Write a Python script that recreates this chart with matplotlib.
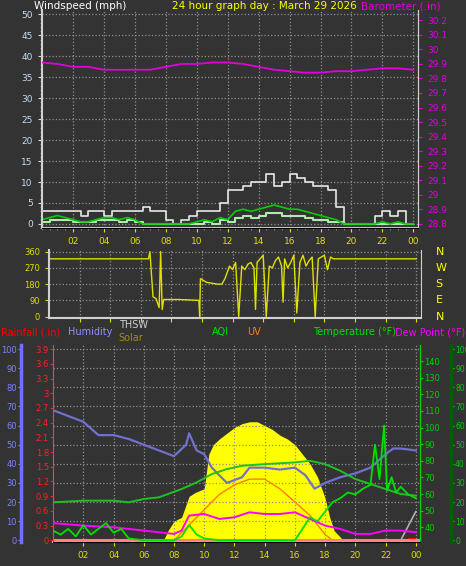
import numpy as np
import matplotlib
matplotlib.use('Agg')
import matplotlib.pyplot as plt

# hours sampled every half hour (0..24)
hours = np.arange(0, 24.5, 0.5)

gust = [3, 3, 3, 3, 3, 2, 3, 3, 2, 3, 3, 3, 3, 4, 3, 3, 1, 0, 1, 2, 3, 3, 3, 5, 8, 8, 9, 10, 10, 12, 9, 10,
        12, 11, 10, 9, 9, 8, 4, 0, 0, 0, 0, 2, 3, 2, 3, 0, 0]
wind_avg = [1, 1.5, 2, 1.5, 1, 0.5, 0.5, 1, 1.5, 1.5, 1, 1.5, 1, 0, 0, 0, 0, 0, 0, 0, 0.5, 1, 0.5, 1.5, 1,
            3, 3.5, 3, 3.5, 4, 4.5, 4, 3.5, 3.5, 3, 2.5, 2, 1.5, 1, 0, 0, 0, 0, 0, 0.5, 0, 0.5, 0, 0]
wind_low = [0.5, 1, 1, 1, 0.5, 0.5, 0.5, 1, 1, 1, 0.5, 1, 0.5, 0, 0, 0, 0, 0, 0, 0, 0, 0.5, 0, 1, 0.5,
            1.5, 2, 1.5, 2, 2.5, 2.5, 2, 2, 2, 1.5, 1, 1, 0.5, 0.5, 0, 0, 0, 0, 0, 0, 0, 0, 0, 0]

baro_hours = [0, 1, 2, 3, 4, 5, 6, 7, 8, 9, 10, 11, 12, 13, 14, 15, 16, 17, 18, 19, 20, 21, 22, 23, 24]
baro = [29.91, 29.90, 29.88, 29.88, 29.86, 29.86, 29.86, 29.86, 29.88, 29.90, 29.90, 29.91, 29.91, 29.90,
        29.88, 29.86, 29.85, 29.84, 29.84, 29.85, 29.85, 29.86, 29.87, 29.87, 29.86]

dir_hours = [0, 6.5, 6.6, 6.8, 7.0, 7.2, 7.3, 7.4, 7.5, 8.5, 9.8, 9.85, 9.9, 10.3, 11.0, 11.3, 11.5, 11.8,
             12.0, 12.2, 12.4, 12.6, 12.8, 13.0, 13.2, 13.4, 13.5, 13.6, 13.8, 14.0, 14.2, 14.4, 14.6, 14.8,
             15.0, 15.2, 15.3, 15.4, 15.6, 15.8, 16.0, 16.2, 16.4, 16.6, 16.8, 17.0, 17.2, 17.4, 17.6, 17.8,
             18.0, 18.2, 18.4, 18.6, 19.0, 24.0]
wind_dir = [320, 320, 360, 110, 100, 50, 360, 40, 95, 95, 90, 0, 210, 190, 180, 180, 210, 280,
            260, 300, 0, 280, 260, 290, 300, 270, 40, 300, 320, 340, 0, 280, 270, 310,
            330, 280, 80, 320, 270, 300, 340, 20, 300, 340, 280, 310, 330, 0, 320, 330,
            340, 260, 330, 320, 320, 320]

hum_hours = [0, 1, 2, 3, 4, 5, 6, 7, 8, 8.8, 9.0, 9.5, 10, 10.5, 11.5, 12.5, 13, 14, 15, 16, 16.7, 17.3,
             18, 19, 20, 21, 22, 22.5, 23, 24]
humidity = [68, 65, 62, 55, 55, 53, 50, 47, 44, 50, 56, 47, 45, 38, 30, 33, 38, 38, 37, 38, 34, 27,
            30, 33, 35, 38, 45, 48, 48, 47]

temp_hours = [0, 2, 4, 5, 6, 7, 8.5, 9.5, 10.5, 11.5, 12.5, 14, 16, 17, 18, 19, 20, 21, 22, 23, 24]
temperature = [55, 56, 56, 55, 57, 58, 63, 67, 72, 75, 77, 78, 79, 80, 78, 74, 69, 66, 63, 60, 59]

dew_hours = [0, 2, 4, 6, 7, 8, 8.5, 9, 10, 11, 12, 13, 14, 15, 16, 17, 18, 19, 20, 21, 22, 23, 24]
dew_point = [42.5, 41, 40, 38, 37, 36, 38, 47, 48, 45, 46, 49, 48, 48, 49, 45, 41, 39, 36, 36, 38, 38, 37]

solar_hours = [7.3, 7.6, 8.0, 8.5, 9.0, 9.4, 10.0, 10.3, 10.6, 11.0, 11.5, 12.0, 12.5, 13.0, 13.5, 14.0,
               14.5, 15.0, 15.5, 16.0, 16.5, 17.0, 17.5, 18.0, 18.3, 18.6, 19.2]
solar = [0, 5, 10, 12, 23, 25, 27, 45, 50, 53, 56, 59, 61, 62, 62, 60, 58, 55, 53, 50, 45, 40, 33, 22,
         12, 5, 0]

uv_hours = [8, 9, 10, 10.5, 11, 12, 13, 14, 15, 16, 17, 17.5, 18, 18.5]
uv = [0, 8, 16, 20, 24, 29, 32, 32, 27, 20, 13, 8, 3, 0]

aqi_hours = [0, 0.5, 1, 1.5, 2, 2.5, 3, 3.5, 4, 4.5, 5, 6, 8, 8.5, 9, 9.5, 10, 11, 16, 16.5, 17, 17.5, 18,
             18.5, 19, 19.5, 20, 20.5, 21, 21.3, 21.6, 21.9, 22.1, 22.4, 22.7, 23, 23.5, 24]
aqi = [5, 3, 6, 2, 8, 3, 6, 9, 4, 6, 1, 0, 0, 2, 8, 3, 1, 0, 0, 6, 12, 10, 15, 20, 22, 25, 24, 27, 29, 50,
       32, 60, 26, 33, 25, 28, 24, 22]

thsw_hours = [23, 24]
thsw = [0, 15]

BG = '#333333'
GRID = dict(color='#909090', linestyle=':', linewidth=0.9)
hour_ticks = list(range(2, 25, 2))
hour_labels = ['%02d' % (h % 24) for h in hour_ticks]

fig = plt.figure(figsize=(4.66, 5.66), dpi=100, facecolor=BG)


def style(ax, xlabels=True):
    ax.set_facecolor(BG)
    ax.set_xlim(0, 24.3)
    ax.set_xticks(hour_ticks)
    ax.set_xticklabels(hour_labels if xlabels else [])
    ax.tick_params(axis='x', colors='#e0e000', labelsize=6.5, length=3)
    ax.grid(True, **GRID)
    for s in ['left', 'bottom', 'top', 'right']:
        ax.spines[s].set_color('#d0d0d0')
    ax.spines['top'].set_visible(False)
    ax.spines['bottom'].set_linewidth(1.5)
    ax.spines['left'].set_linewidth(1.5)


# top panel: wind speed + barometer
ax1 = fig.add_axes([0.090, 0.597, 0.807, 0.385])
style(ax1)
ax1.step(hours, gust, where='post', color='#e8e8e8', lw=1.2)
ax1.step(hours, wind_low, where='post', color='#b0e8b0', lw=1.5)
ax1.plot(hours, wind_avg, color='#00d000', lw=1.2)
ax1.set_ylim(-1, 51)
ax1.set_yticks(range(0, 51, 5))
ax1.tick_params(axis='y', colors='#c8dcf0', labelsize=6.5, length=3)
ax1.minorticks_on()
ax1.tick_params(which='minor', colors='#909090', length=1.5)
ax1b = ax1.twinx()
ax1b.plot(baro_hours, baro, color='#e000e0', lw=1.3)
ax1b.set_ylim(28.77, 30.27)
ax1b.set_yticks(np.round(np.arange(28.8, 30.21, 0.1), 1))
ax1b.set_yticklabels(['%g' % v for v in np.round(np.arange(28.8, 30.21, 0.1), 1)])
ax1b.tick_params(axis='y', colors='#e000e0', labelsize=6.5, length=3)
ax1b.spines['right'].set_color('#d0d0d0')
ax1b.spines['left'].set_visible(False)
ax1b.spines['top'].set_visible(False)
fig.text(0.073, 0.998, 'Windspeed (mph)', color='white', fontsize=7.5, va='top')
fig.text(0.37, 0.998, '24 hour graph day : March 29 2026', color='#ffff00', fontsize=7.5, va='top')
fig.text(0.945, 0.998, 'Barometer (.in)', color='#e000e0', fontsize=7.5, va='top', ha='right')

# middle panel: wind direction
ax2 = fig.add_axes([0.105, 0.438, 0.798, 0.120])
style(ax2, xlabels=False)
ax2.plot(dir_hours, wind_dir, color='#e0e000', lw=1.0)
ax2.set_ylim(-8, 368)
ax2.set_yticks([0, 90, 180, 270, 360])
ax2.tick_params(axis='y', colors='#e0e000', labelsize=6, length=3)
for v, lab in zip([0, 90, 180, 270, 360], ['N', 'E', 'S', 'W', 'N']):
    ax2.text(1.04, (v + 8) / 376, lab, transform=ax2.transAxes, color='#ffff00', fontsize=8, va='center')

# legend row
leg_y = 0.413
for x, txt, c in [(0.002, 'Rainfall (.in)', '#ff0000'), (0.145, 'Humidity', '#9090ff'),
                  (0.455, 'AQI', '#00e000'), (0.53, 'UV', '#ff8000'),
                  (0.672, 'Temperature (°F)', '#00e000'), (0.848, 'Dew Point (°F)', '#ff00ff')]:
    fig.text(x, leg_y, txt, color=c, fontsize=7, va='center')
fig.text(0.255, 0.426, 'THSW', color='#d0d0d0', fontsize=7, va='center')
fig.text(0.255, 0.402, 'Solar', color='#a09000', fontsize=7, va='center')

# bottom panel
ax3 = fig.add_axes([0.114, 0.042, 0.788, 0.348])
style(ax3)
ax3.set_ylim(-1, 102)
ax3.fill_between(solar_hours, solar, color='#ffff00', lw=0)
ax3.plot(uv_hours, uv, color='#ff8000', lw=1.0)
ax3.plot(hum_hours, humidity, color='#7070d0', lw=1.6)
ax3.plot(thsw_hours, thsw, color='#b0b0b0', lw=1.2)
ax3.spines['left'].set_position(('outward', 23))
ax3.spines['left'].set_color('#7070ff')
ax3.spines['left'].set_linewidth(2.5)
ax3.set_yticks(range(0, 101, 10))
ax3.tick_params(axis='y', colors='#8080ff', labelsize=6, length=2, pad=1)

rain_ax = ax3.twinx()
rain_ax.set_ylim(-0.04, 3.98)
rain_ax.bar([23.75], [0.05], width=0.5, color='#ff0000')
rain_ax.axhline(0, color='#ff8080', lw=1.5)
rain_ax.spines['left'].set_visible(True)
rain_ax.spines['left'].set_color('#ff4040')
rain_ax.spines['right'].set_visible(False)
rain_ax.spines['top'].set_visible(False)
rain_ax.yaxis.set_ticks_position('left')
rain_ax.set_yticks(np.round(np.arange(0, 3.91, 0.3), 1))
rain_ax.set_yticklabels(['%g' % v for v in np.round(np.arange(0, 3.91, 0.3), 1)])
rain_ax.tick_params(axis='y', colors='#ff2020', labelsize=6, length=2, pad=1)

temp_ax = ax3.twinx()
temp_ax.set_ylim(31, 149.5)
temp_ax.plot(temp_hours, temperature, color='#20c020', lw=1.4)
temp_ax.plot(dew_hours, dew_point, color='#ff00ff', lw=1.4)
temp_ax.set_yticks(range(40, 141, 10))
temp_ax.tick_params(axis='y', colors='#00d000', labelsize=6, length=2, pad=1)
temp_ax.spines['right'].set_color('#00d000')
for s in ['left', 'top']:
    temp_ax.spines[s].set_visible(False)

aqi_ax = ax3.twinx()
aqi_ax.set_ylim(-1, 102)
aqi_ax.plot(aqi_hours, aqi, color='#00e000', lw=1.3)
aqi_ax.spines['right'].set_position(('outward', 22))
aqi_ax.spines['right'].set_color('#006000')
aqi_ax.spines['right'].set_linewidth(2.5)
aqi_ax.set_yticks(range(0, 101, 10))
aqi_ax.tick_params(axis='y', colors='#00d000', labelsize=5.5, length=2, pad=1)
for s in ['left', 'top']:
    aqi_ax.spines[s].set_visible(False)

fig.savefig('out.png', dpi=100, facecolor=BG)
